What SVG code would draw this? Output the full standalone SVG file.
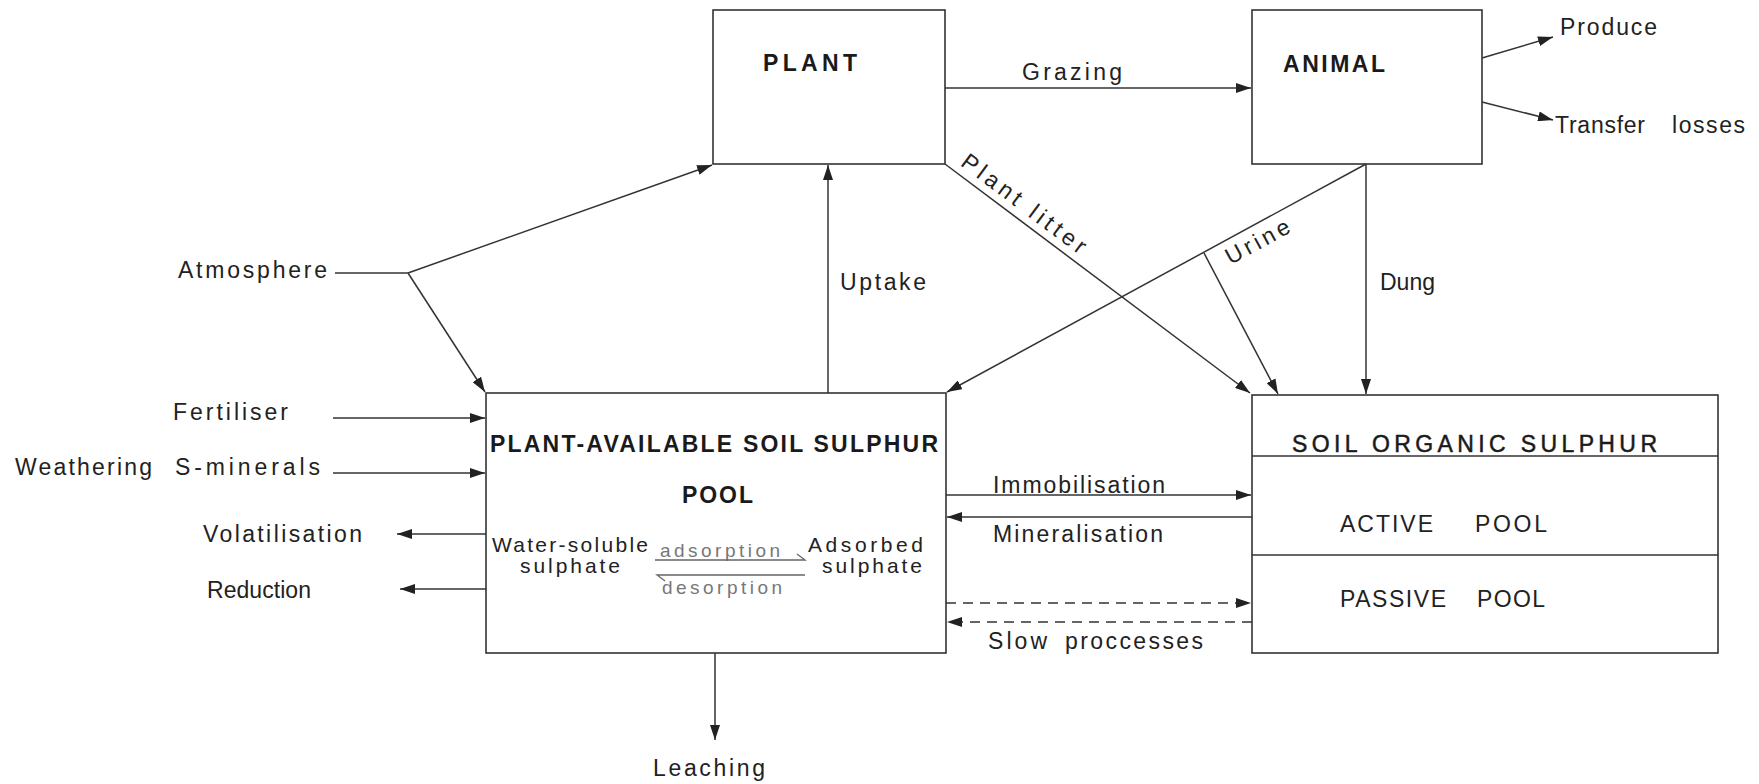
<svg xmlns="http://www.w3.org/2000/svg" width="1759" height="784" viewBox="0 0 1759 784">
<defs>
<marker id="ah" viewBox="0 0 15 10" refX="15" refY="5" markerWidth="15" markerHeight="10" markerUnits="userSpaceOnUse" orient="auto">
<path d="M0,0 L15,5 L0,10 Z" fill="#222"/>
</marker>
<style>
.box{fill:none;stroke:#333;stroke-width:1.6}
.ln{fill:none;stroke:#333;stroke-width:1.5}
.ar{fill:none;stroke:#333;stroke-width:1.5;marker-end:url(#ah)}
.da{fill:none;stroke:#333;stroke-width:1.5;stroke-dasharray:10 7}
.t{font-family:"Liberation Sans",Arial,sans-serif;font-size:23px;fill:#222}
.b{font-family:"Liberation Sans",Arial,sans-serif;font-size:23px;font-weight:bold;fill:#1a1a1a}
.s{font-family:"Liberation Sans",Arial,sans-serif;font-size:21px;fill:#222}
.g{font-family:"Liberation Sans",Arial,sans-serif;font-size:19px;fill:#777}
.hp{fill:none;stroke:#666;stroke-width:1.3}
</style>
</defs>
<rect width="1759" height="784" fill="#fff"/>

<g id="plant">
<rect class="box" x="713" y="10" width="232" height="154"/>
<text class="b" x="763" y="71" textLength="94" lengthAdjust="spacing">PLANT</text>
</g>

<g id="animal">
<rect class="box" x="1252" y="10" width="230" height="154"/>
<text class="b" x="1283" y="72" textLength="102" lengthAdjust="spacing">ANIMAL</text>
</g>

<g id="pool">
<rect class="box" x="486" y="393" width="460" height="260"/>
<text class="b" x="490" y="452" textLength="448" lengthAdjust="spacing">PLANT-AVAILABLE SOIL SULPHUR</text>
<text class="b" x="682" y="503" textLength="71" lengthAdjust="spacing">POOL</text>
<text class="s" x="492" y="552" textLength="156" lengthAdjust="spacing">Water-soluble</text>
<text class="s" x="520" y="573" textLength="100" lengthAdjust="spacing">sulphate</text>
<text class="s" x="808" y="552" textLength="115" lengthAdjust="spacing">Adsorbed</text>
<text class="s" x="822" y="573" textLength="100" lengthAdjust="spacing">sulphate</text>
<text class="g" x="660" y="557" textLength="120" lengthAdjust="spacing">adsorption</text>
<text class="g" x="662" y="594" textLength="120" lengthAdjust="spacing">desorption</text>
<path class="hp" d="M655,560 H805 L797,554"/>
<path class="hp" d="M805,575 H657 L665,581"/>
</g>

<g id="organic">
<rect class="box" x="1252" y="395" width="466" height="258"/>
<line class="ln" x1="1252" y1="456" x2="1718" y2="456"/>
<line class="ln" x1="1252" y1="555" x2="1718" y2="555"/>
<text class="b" x="1292" y="452" textLength="365" lengthAdjust="spacing" style="font-weight:normal;stroke:#1a1a1a;stroke-width:0.5">SOIL  ORGANIC  SULPHUR</text>
<text class="t" y="532"><tspan x="1340" textLength="93" lengthAdjust="spacing">ACTIVE</tspan><tspan x="1475" textLength="72" lengthAdjust="spacing">POOL</tspan></text>
<text class="t" y="607"><tspan x="1340" textLength="106" lengthAdjust="spacing">PASSIVE</tspan><tspan x="1477" textLength="68" lengthAdjust="spacing">POOL</tspan></text>
</g>

<g id="external">
<text class="t" x="178" y="278" textLength="149" lengthAdjust="spacing">Atmosphere</text>
<text class="t" x="173" y="420" textLength="115" lengthAdjust="spacing">Fertiliser</text>
<text class="t" y="475"><tspan x="15" textLength="137" lengthAdjust="spacing">Weathering</tspan><tspan x="175" textLength="145" lengthAdjust="spacing">S-minerals</tspan></text>
<text class="t" x="203" y="542" textLength="159" lengthAdjust="spacing">Volatilisation</text>
<text class="t" x="207" y="598" textLength="104" lengthAdjust="spacing">Reduction</text>
<text class="t" x="653" y="776" textLength="112" lengthAdjust="spacing">Leaching</text>
<text class="t" x="1560" y="35" textLength="97" lengthAdjust="spacing">Produce</text>
<text class="t" y="133"><tspan x="1555" textLength="90" lengthAdjust="spacing">Transfer</tspan><tspan x="1672" textLength="73" lengthAdjust="spacing">losses</tspan></text>
</g>

<g id="connectors">
<line class="ln" x1="335" y1="273" x2="408" y2="273"/>
<line class="ar" x1="408" y1="273" x2="712" y2="165"/>
<line class="ar" x1="408" y1="273" x2="485" y2="392"/>
<line class="ar" x1="333" y1="418" x2="485" y2="418"/>
<line class="ar" x1="333" y1="473" x2="485" y2="473"/>
<line class="ar" x1="486" y1="534" x2="397" y2="534"/>
<line class="ar" x1="486" y1="589" x2="400" y2="589"/>
<line class="ar" x1="715" y1="653" x2="715" y2="740"/>
<line class="ar" x1="828" y1="393" x2="828" y2="165"/>
<line class="ar" x1="945" y1="88" x2="1251" y2="88"/>
<line class="ar" x1="1482" y1="58" x2="1553" y2="37"/>
<line class="ar" x1="1482" y1="102" x2="1553" y2="120"/>
<line class="ar" x1="945" y1="164" x2="1250" y2="393"/>
<line class="ar" x1="1366" y1="164" x2="947" y2="392"/>
<line class="ar" x1="1204" y1="253" x2="1278" y2="394"/>
<line class="ar" x1="1366" y1="164" x2="1366" y2="394"/>
<line class="ar" x1="946" y1="495" x2="1251" y2="495"/>
<line class="ar" x1="1252" y1="517" x2="947" y2="517"/>
<line class="da" x1="946" y1="603" x2="1251" y2="603" style="marker-end:url(#ah)"/>
<line class="da" x1="1252" y1="622" x2="947" y2="622" style="marker-end:url(#ah)"/>
<text class="t" x="1022" y="80" textLength="100" lengthAdjust="spacing">Grazing</text>
<text class="t" x="840" y="290" textLength="86" lengthAdjust="spacing">Uptake</text>
<text class="t" x="1380" y="290" textLength="55" lengthAdjust="spacing">Dung</text>
<text class="t" x="993" y="493" textLength="172" lengthAdjust="spacing">Immobilisation</text>
<text class="t" x="993" y="542" textLength="170" lengthAdjust="spacing">Mineralisation</text>
<text class="t" y="649"><tspan x="988" textLength="59" lengthAdjust="spacing">Slow</tspan><tspan x="1065" textLength="138" lengthAdjust="spacing">proccesses</tspan></text>
<text class="t" x="959.4" y="164.8" textLength="150" lengthAdjust="spacing" transform="rotate(36.9 959.4 164.8)">Plant  litter</text>
<text class="t" x="1230.6" y="265.1" textLength="70" lengthAdjust="spacing" transform="rotate(-28.6 1230.6 265.1)">Urine</text>
</g>
</svg>
